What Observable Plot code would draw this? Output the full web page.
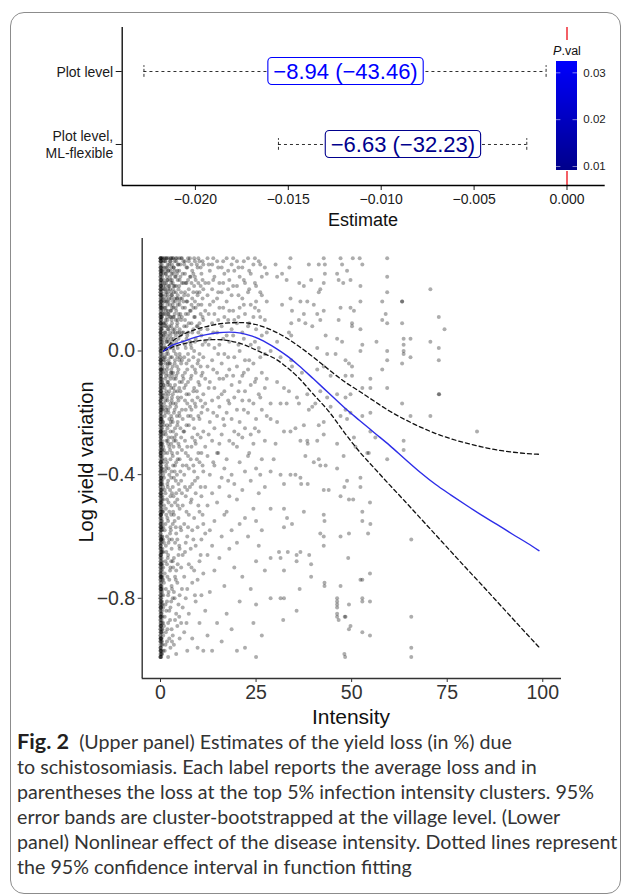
<!DOCTYPE html>
<html><head><meta charset="utf-8">
<script src="https://cdn.jsdelivr.net/npm/d3@7"></script>
<script src="https://cdn.jsdelivr.net/npm/@observablehq/plot@0.6"></script>
<style>
html,body{margin:0;padding:0;background:#fff;}
#wrap{position:relative;width:630px;height:896px;overflow:hidden;font-family:"Liberation Sans",Arial,Helvetica,sans-serif;background:#fff;}
.abs{position:absolute;}
.title{position:absolute;color:#111;white-space:nowrap;transform:translate(-50%,-50%);line-height:1;}
#frame{position:absolute;left:10px;top:12px;width:611px;height:882px;border:1.3px solid #8c8c8c;border-radius:14px;box-sizing:border-box;pointer-events:none;}
#caption{position:absolute;left:17px;top:729px;font-family:Lato,"Open Sans",sans-serif;font-size:17px;line-height:25px;color:#333;}
#caption .ln{white-space:nowrap;height:25px;}
#caption b{font-size:1.1em;color:#231f20;}
</style></head>
<body><div id="wrap">
<div id="top" class="abs" style="left:0;top:0"></div>
<div id="legend" class="abs" style="left:553px;top:40px"></div>
<div class="title" style="left:567px;top:51px;font-size:12.5px;color:#111"><i>P</i>.val</div>
<div class="title" style="left:363px;top:220px;font-size:18px">Estimate</div>
<div id="bottom" class="abs" style="left:0;top:232px"></div>
<div class="title" style="left:351px;top:716px;font-size:21px">Intensity</div>
<div class="title" style="left:86px;top:462px;font-size:20px;transform:translate(-50%,-50%) rotate(-90deg)">Log yield variation</div>
<div id="caption">
<div class="ln"><span><b>Fig. 2</b>&nbsp;&nbsp;(Upper panel) Estimates of the yield loss (in %) due</span></div>
<div class="ln"><span>to schistosomiasis. Each label reports the average loss and in</span></div>
<div class="ln"><span>parentheses the loss at the top 5% infection intensity clusters. 95%</span></div>
<div class="ln"><span>error bands are cluster-bootstrapped at the village level. (Lower</span></div>
<div class="ln"><span>panel) Nonlinear effect of the disease intensity. Dotted lines represent</span></div>
<div class="ln"><span>the 95% confidence interval in function fitting</span></div>
</div>
<div id="frame"></div>
</div>
<script>
// ---------- Upper panel data ----------
const rowLabels = ["Plot level", "Plot level,\nML-flexible"];
const rowPos = [2, 1];
const estLow = [-0.02277, -0.01553];
const estHigh = [-0.001125, -0.002164];
const estMid = [-0.01192, -0.00883];
const estText = ["\u22128.94 (\u221243.46)", "\u22126.63 (\u221232.23)"];
const pVal = [0.0322, 0.0095];
const topXTicks = [-0.020, -0.015, -0.010, -0.005, 0.000];
const topXDomain = [-0.02394, 0.002056];
const topYDomain = [0.438, 2.603];
const pDomain = [0.00915, 0.03248];
const pTicks = [0.01, 0.02, 0.03];
const pColors = ["#00008B", "#0000FF"];

// ---------- Lower panel data ----------
const fitX     = [0.8, 3, 6, 9, 12, 15, 18, 21, 24, 27, 30, 33, 36, 40, 44, 48, 52, 56, 60, 64, 68, 72, 76, 80, 84, 88, 92, 96, 99];
const fitMean  = [0.000, 0.018, 0.031, 0.044, 0.053, 0.059, 0.061, 0.058, 0.048, 0.032, 0.010, -0.015, -0.045, -0.090, -0.136, -0.182, -0.224, -0.265, -0.306, -0.350, -0.393, -0.432, -0.466, -0.499, -0.531, -0.561, -0.592, -0.622, -0.646];
const fitUpper = [0.000, 0.030, 0.054, 0.069, 0.079, 0.087, 0.091, 0.092, 0.088, 0.078, 0.062, 0.042, 0.017, -0.020, -0.060, -0.098, -0.130, -0.163, -0.195, -0.222, -0.246, -0.267, -0.284, -0.298, -0.310, -0.320, -0.327, -0.332, -0.334];
const fitLower = [0.000, 0.012, 0.023, 0.031, 0.036, 0.037, 0.033, 0.024, 0.009, -0.008, -0.025, -0.052, -0.085, -0.140, -0.195, -0.262, -0.325, -0.380, -0.434, -0.487, -0.541, -0.595, -0.649, -0.703, -0.756, -0.810, -0.864, -0.918, -0.958];
const bottomXTicks = [0, 25, 50, 75, 100];
const bottomYTicks = [0, -0.4, -0.8];
const bottomXDomain = [-4.79, 104.9];
const bottomYDomain = [-1.0595, 0.364];

// scatter, dense part: "intensity|log-yield values in hundredths"
const denseColumns = [
"0|30 29 27 26 24 23 21 20 18 17 15 14 12 11 9 8 6 5 3 2 0 -1 -3 -4 -6 -7 -9 -10 -12 -13 -15 -16 -18 -19 -21 -22 -24 -25 -27 -28 -30 -31 -33 -34 -36 -37 -39 -40 -42 -43 -45 -46 -48 -49 -51 -52 -54 -55 -57 -58 -60 -61 -63 -64 -66 -67 -69 -70 -72 -73 -75 -76 -78 -79 -81 -82 -84 -85 -87 -88 -90 -91 -93 -94 -96 -97 -99",
"0|30 28 25 22 19 16 13 10 7 4 1 -2 -5 -8 -11 -14 -17 -20 -23 -26 -29 -32 -35 -38 -41 -44 -47 -50 -53 -56 -59 -62 -65 -68 -71 -74 -77 -80 -83 -86 -89 -92 -95 -98",
"0|29 26 24 21 19 16 14 11 9 6 4 1 -2 -4 -7 -9 -12 -14 -17 -19 -22 -24 -27 -29 -32 -34 -37 -39 -42 -44 -47 -49 -52 -54 -57 -59 -62 -64 -67 -69 -72 -74 -77 -79 -82 -84 -87 -89 -92 -94 -97 -99",
"0|30 27 23 20 18 15 12 9 6 3 0 -3 -6 -10 -13 -16 -20 -23 -26 -30 -33 -36 -40 -43 -46 -50 -53 -56 -60 -63 -66 -70 -73 -76 -80 -83 -86 -90 -93 -96 -99",
"0.1|30 27 25 22 20 17 15 12 10 7 5 2 -1 -3 -6 -8 -11 -13 -16 -18 -21 -23 -26 -28 -31 -33 -36 -38 -41 -43 -46 -48 -51 -53 -56 -58 -61 -63 -66 -68 -71 -73 -76 -78 -81 -83 -86 -88 -91 -93 -96 -98",
"0.15|29 25 21 18 14 11 7 4 0 -4 -8 -11 -15 -19 -22 -26 -30 -34 -37 -41 -45 -49 -53 -57 -61 -65 -69 -73 -77 -81 -85 -89 -93 -97",
"0.2|29 26 23 21 18 16 13 10 8 5 2 0 -3 -6 -9 -12 -14 -17 -20 -22 -25 -28 -31 -33 -36 -39 -42 -45 -47 -50 -53 -55 -58 -61 -64 -66 -69 -72 -75 -77 -80 -83 -86 -89 -91 -94 -97 -99",
"0.3|28 26 23 19 16 14 11 9 6 3 1 -4 -7 -10 -13 -15 -18 -21 -24 -27 -30 -32 -35 -38 -41 -43 -46 -49 -52 -54 -57 -60 -62 -65 -67 -70 -73 -76 -79 -82 -85 -87 -90 -93 -95 -98",
"0.4|30 27 24 20 17 14 11 7 4 1 -2 -6 -9 -12 -15 -19 -22 -25 -29 -32 -35 -38 -42 -45 -48 -51 -55 -58 -61 -65 -68 -71 -74 -78 -81 -84 -88 -91 -94 -98",
"0.5|30 26 22 18 15 12 8 3 -1 -5 -10 -14 -18 -23 -26 -30 -34 -39 -43 -47 -52 -56 -60 -64 -69 -73 -77 -82 -86 -90 -95",
"0.7|29 25 21 17 13 9 5 1 -3 -7 -11 -15 -19 -23 -27 -31 -36 -40 -44 -48 -52 -57 -61 -65 -70 -74 -79 -83 -88 -92 -97",
"0.9|30 27 23 20 16 12 9 5 2 -2 -6 -11 -17 -24 -32 -41 -50 -62 -75 -89",
"1.1|29 22 14 6 -3 -12 -21 -33 -45 -58 -72 -86 -97",
"1.25|30 25 20 16 12 8 4 -2 -16 -39",
"1.3|29 26 21 18 14 10 6 1 -4 -9 -14 -20 -26 -35 -46 -56 -68 -82 -95",
"1.4|27 19 9 1 -8 -18 -27 -38 -51 -63 -77 -91",
"1.5|30 25 22 17 13 8 3 -1 -7 -13 -19 -29 -37 -53 -65 -84",
"1.7|30 24 16 11 3 -6 -15 -24 -36 -48 -60 -69 -81 -94",
"1.8|27 23 19 15 10 5 0 -5 -10 -16 -25 -33 -43 -54 -73 -90",
"1.9|28 23 18 13 7 -4 -11 -29 -44 -67",
"2.0|26 20 12 4 -1 -10 -19 -30 -42 -55 -66 -79 -88 -99",
"2.1|30 26 21 16 12 7 3 -3 -8 -14 -20 -28 -38 -49 -62 -78",
"2.3|28 21 17 8 -4 -13 -22 -31 -40 -52 -61 -74 -84 -93",
"2.5|29 24 20 15 11 6 1 -4 -11 -18 -24 -32 -45 -59 -71 -87",
"2.6|29 23 13 5 -2 -9 -17 -26 -35 -47 -57 -70 -83 -96",
"2.7|30 26 19 11 2 -7 -23 -58",
"2.8|30 27 22 17 13 8 4 -6 -12 -21 -30 -41 -53 -68 -81",
"2.9|25 18 10 2 -7 -16 -28 -39 -50 -64 -76 -90",
"3.0|28 23 18 14 9 3 -2 -8 -15 -22 -33 -46 -61 -77 -94",
"3.2|30 22 15 7 -5 -14 -23 -34 -44 -56 -68 -80 -92",
"3.3|30 25 20 16 11 6 1 -7 -17 -26 -37 -52 -70",
"3.4|27 21 14 4 -12 -31 -47",
"3.5|27 19 11 0 -9 -20 -29 -41 -53 -67 -78 -95",
"3.7|29 26 21 17 12 7 2 -4 -13 -19 -28 -39 -55 -80",
"3.8|24 16 6 -3 -11 -25 -37 -49 -62 -73 -87",
"4.0|30 24 19 14 10 5 -1 -9 -17 -29 -42 -57 -74",
"4.1|29 21 13 3 -8 -18 -27 -36 -46 -59 -71 -85 -98",
"4.3|30 25 17 8 -5 -21 -40",
"4.4|26 17 9 -2 -13 -24 -33 -48 -61 -75 -89",
"4.5|28 23 18 15 10 6 1 -7 -15 -23 -35 -50 -69",
"4.7|28 20 12 4 -6 -16 -30 -43 -54 -66 -82",
"4.9|30 26 21 16 11 6 -3 -12 -20 -31 -45 -63 -86",
"5.0|23 15 7 -1 -10 -21 -35 -51 -64 -79 -93",
"5.2|28 24 17 12 5 -2 -13 -25 -39 -57",
"5.4|30 19 10 -4 -15 -28 -42 -58 -70 -88",
"5.6|30 22 17 11 6 -3 -10 -19 -32 -46 -77",
"5.8|25 14 3 -8 -22 -37 -50 -66 -83",
"6.0|29 22 16 6 -9 -26",
"6.2|28 18 8 -2 -12 -26 -40 -56 -73 -91",
"6.4|29 25 19 14 10 2 -7 -16 -29 -44 -65",
"6.6|22 12 1 -11 -19 -33 -47 -62 -80",
"6.8|27 22 16 8 4 -4 -14 -24 -37 -52 -88",
"7.0|27 16 5 -6 -17 -31 -45 -60 -77 -97",
"7.2|30 23 18 12 6 -1 -10 -21 -34 -57",
"7.4|29 20 9 -3 -14 -24 -38 -53 -69 -85",
"7.7|30 24 13 3 -18 -44",
"7.9|24 13 2 -9 -21 -35 -49 -64",
"8.1|28 22 15 9 1 -8 -19 -31 -48 -70",
"8.3|26 17 6 -5 -16 -28 -43 -58 -75 -93",
"8.6|25 19 14 7 -2 -13 -22 -37 -61",
"8.8|30 21 11 0 -12 -25 -39 -54 -71",
"9.0|29 24 16 11 3 -6 -17 -29 -42 -79",
"9.2|23 14 4 -7 -18 -30 -46 -63 -81",
"9.5|28 19 8 -13 -35",
"9.7|27 18 8 -4 -15 -27 -41 -57 -74 -96",
"9.9|30 22 15 6 -3 -10 -21 -33 -50",
"10.2|29 19 9 -1 -11 -22 -36 -52 -68 -88",
"10.5|27 21 12 7 -5 -16 -28 -44 -66",
"10.7|25 15 5 -8 -20 -33 -47 -61 -79",
"11.0|29 23 17 11 2 -7 -18 -37 -53",
"11.2|28 20 10 -2 -14 -26 -39 -56 -72 -97",
"11.7|22 13 3 -9 -17 -31 -44 -59 -84",
"12.3|30 18 7 -5 -19 -34 -50 -66 -92",
"12.6|28 22 12 2 -12 -27",
"12.9|26 15 4 -10 -23 -40 -58 -78",
"13.5|28 20 9 -3 -16 -29 -46 -63 -97",
"13.8|30 23 16 6 -6 -20 -36",
"14.1|24 12 1 -12 -25 -37 -55 -71",
"14.8|29 17 6 -7 -21 -33 -49 -88",
"15.1|27 19 10 -1 -15 -33",
"15.4|22 14 2 -9 -18 -30 -44 -67",
"16.0|27 19 8 -4 -14 -27 -41 -60 -94",
"16.4|29 22 14 4 -9 -22",
"16.7|25 11 -1 -13 -24 -38 -53 -76",
"17.3|30 16 5 -8 -20 -35 -52 -85",
"17.7|26 20 10 -2 -16 -42",
"18.0|23 13 3 -6 -17 -29 -47 -64",
"18.6|28 18 7 -11 -22 -40 -58 -90",
"19.0|30 21 13 5 -8 -30",
"19.3|26 10 -2 -15 -26 -43 -70",
"20.0|29 21 9 -5 -19 -31 -48 -62 -97",
"20.4|27 18 11 2 -13 -27",
"20.7|24 14 0 -10 -23 -36 -56 -81",
"21.4|27 17 6 -8 -16 -28 -45 -73",
"21.8|29 23 15 4 -7 -19",
"22.1|22 12 -3 -13 -25 -39 -54 -96",
"22.9|30 19 8 -6 -20 -34 -60",
"23.2|26 20 9 -3 -16 -33",
"23.6|25 15 2 -11 -27 -42 -77",
"24.3|28 11 -4 -17 -30 -51 -88",
"24.7|30 22 14 3 -10 -25",
"25.0|21 16 7 -9 -22 -38 -55 -68 -82 -99",
"25.7|29 13 1 -14 -26 -46 -63",
"26.1|28 19 11 -2 -15 -40",
"26.5|24 18 5 -7 -19 -35 -58 -92",
"27.3|27 10 -1 -12 -29 -44 -71",
"27.8|25 16 6 -9 -21"
];
// scatter, sparse part: "intensity,log-yield"
const sparsePoints = "34.0,0.30 42.7,0.30 47.1,0.30 50.3,0.30 52.1,0.30 59.3,0.30 30.1,0.28 31.8,0.25 33.7,0.27 38.8,0.28 41.4,0.28 43.0,0.28 43.0,0.25 46.2,0.25 47.5,0.28 48.8,0.26 52.8,0.28 30.5,0.24 33.0,0.23 36.3,0.22 37.5,0.21 39.4,0.23 42.7,0.22 46.6,0.23 47.8,0.22 49.7,0.23 52.3,0.21 59.3,0.24 70.6,0.20 41.8,0.20 41.4,0.19 34.0,0.17 36.6,0.16 38.4,0.16 40.1,0.15 42.7,0.13 47.1,0.14 49.7,0.14 50.6,0.13 52.3,0.16 58.0,0.16 59.3,0.19 63.2,0.16 31.8,0.15 34.4,0.13 37.5,0.12 41.0,0.12 41.8,0.10 46.6,0.10 50.1,0.09 58.0,0.10 58.9,0.12 59.3,0.09 63.2,0.09 72.8,0.11 34.2,0.09 36.2,0.10 37.9,0.09 39.7,0.08 43.2,0.05 46.2,0.04 47.5,0.03 50.1,0.08 52.3,0.07 52.8,0.02 56.5,0.03 63.6,0.04 63.6,0.02 63.6,0.00 63.6,-0.01 65.4,0.04 70.6,0.03 72.8,0.01 72.8,-0.03 30.5,0.03 33.6,0.06 34.2,0.05 41.0,0.01 43.6,-0.01 48.4,-0.03 49.3,-0.04 50.1,-0.05 45.8,-0.01 52.3,0.00 59.3,0.00 59.3,-0.03 63.2,-0.04 65.4,-0.02 58.0,-0.06 28.8,0.00 31.4,-0.02 34.2,-0.03 34.4,-0.05 37.0,-0.07 41.0,-0.06 42.7,-0.05 44.5,-0.08 48.4,-0.08 50.1,-0.08 54.9,-0.09 54.9,-0.12 59.3,-0.12 30.5,-0.10 32.3,-0.12 33.6,-0.13 35.7,-0.15 38.4,-0.14 41.8,-0.13 43.6,-0.15 46.2,-0.14 48.4,-0.15 49.7,-0.14 52.8,-0.12 63.2,-0.17 65.4,-0.21 70.6,-0.21 72.8,-0.14 31.4,-0.17 33.0,-0.17 28.8,-0.17 36.2,-0.17 38.8,-0.19 39.7,-0.18 40.5,-0.17 44.5,-0.18 48.4,-0.19 49.7,-0.20 52.8,-0.21 54.9,-0.20 28.8,-0.22 30.5,-0.23 32.3,-0.26 34.0,-0.26 35.3,-0.25 37.5,-0.24 41.4,-0.24 42.7,-0.23 42.7,-0.27 47.1,-0.21 48.8,-0.22 50.6,-0.28 54.9,-0.26 56.2,-0.28 63.6,-0.29 63.6,-0.32 30.1,-0.30 36.6,-0.29 38.4,-0.29 38.5,-0.30 41.0,-0.29 46.2,-0.30 51.0,-0.31 54.1,-0.33 59.3,-0.35 29.6,-0.35 37.9,-0.34 40.1,-0.36 41.4,-0.35 41.8,-0.37 43.2,-0.37 46.2,-0.38 47.9,-0.34 52.3,-0.41 54.5,-0.33 28.8,-0.39 31.4,-0.40 32.3,-0.43 34.0,-0.40 35.3,-0.40 36.6,-0.41 36.8,-0.43 38.5,-0.43 42.7,-0.45 44.0,-0.45 47.1,-0.47 48.1,-0.44 48.8,-0.42 49.3,-0.48 50.4,-0.48 52.3,-0.44 52.8,-0.52 54.8,-0.49 28.8,-0.51 32.3,-0.51 33.1,-0.54 32.3,-0.57 34.4,-0.56 37.5,-0.52 42.7,-0.53 42.9,-0.55 41.8,-0.59 42.7,-0.60 42.7,-0.63 47.1,-0.60 49.3,-0.59 52.8,-0.55 54.9,-0.56 54.3,-0.59 65.6,-0.61 28.8,-0.67 31.0,-0.65 31.4,-0.67 32.3,-0.71 33.3,-0.65 35.6,-0.66 35.6,-0.68 36.6,-0.65 38.9,-0.66 39.4,-0.69 39.4,-0.73 49.1,-0.67 52.3,-0.74 52.8,-0.74 54.8,-0.72 28.8,-0.80 31.4,-0.80 32.3,-0.80 32.1,-0.87 35.6,-0.84 36.4,-0.77 42.9,-0.75 42.9,-0.76 46.2,-0.80 46.2,-0.81 46.2,-0.82 46.2,-0.83 46.2,-0.85 46.2,-0.86 46.6,-0.87 47.1,-0.76 48.2,-0.86 48.4,-0.86 49.3,-0.82 49.7,-0.89 49.3,-0.90 52.8,-0.80 52.8,-0.81 54.8,-0.81 52.8,-0.91 54.8,-0.92 48.1,-0.98 48.3,-0.99 65.6,-0.86 65.6,-0.96 65.6,-0.99 72.9,-0.14 74.3,0.07 82.8,-0.26 63.2,0.16";

// ---------- build tables ----------
const rows = rowLabels.map((label, i) => ({label, y: rowPos[i], lo: estLow[i], hi: estHigh[i], est: estMid[i], text: estText[i], p: pVal[i]}));
const fit = fitX.map((x, i) => ({x, mean: fitMean[i], upper: fitUpper[i], lower: fitLower[i]}));
const points = [];
for (const s of denseColumns) {
  const [x, ys] = s.split("|");
  for (const v of ys.trim().split(/\s+/)) points.push({x: +x, y: +v / 100});
}
for (const pr of sparsePoints.trim().split(/\s+/)) {
  const [x, y] = pr.split(",");
  points.push({x: +x, y: +y});
}

const font = '"Liberation Sans", Arial, Helvetica, sans-serif';
const pColor = {type: "linear", domain: pDomain, range: pColors};

// ---------- Upper panel ----------
const topPlot = Plot.plot({
  width: 630, height: 232,
  marginLeft: 121.7, marginRight: 25.3, marginTop: 27, marginBottom: 47,
  style: {fontFamily: font, fontSize: "14px", background: "white", color: "#222"},
  x: {domain: topXDomain},
  y: {domain: topYDomain},
  color: pColor,
  marks: [
    Plot.ruleX([0], {stroke: "#ee1c25", strokeWidth: 1.4}),
    Plot.ruleY(rows, {y: "y", x1: "lo", x2: "hi", stroke: "#1a1a1a", strokeWidth: 0.9, strokeDasharray: "3,3"}),
    Plot.ruleX(rows, {x: "lo", y1: d => d.y - 0.08, y2: d => d.y + 0.08, stroke: "#1a1a1a", strokeWidth: 0.9, strokeDasharray: "3,2"}),
    Plot.ruleX(rows, {x: "hi", y1: d => d.y - 0.08, y2: d => d.y + 0.08, stroke: "#1a1a1a", strokeWidth: 0.9, strokeDasharray: "3,2"}),
    Plot.text(rows, {x: "est", y: "y", text: "text", fill: "p", fontSize: 22}),
    Plot.axisY(rowPos, {tickFormat: d => rowLabels[rowPos.indexOf(d)], tickSize: 6, tickPadding: 3, fontSize: 14, lineHeight: 1.2, label: null, color: "#1a1a1a"}),
    Plot.axisX(topXTicks, {tickFormat: d3.format(".3f"), tickSize: 5, tickPadding: 4, fontSize: 14, label: null, color: "#1a1a1a"}),
    Plot.ruleX([topXDomain[0]], {stroke: "#000", strokeWidth: 1.3}),
    Plot.ruleY([topYDomain[0]], {stroke: "#000", strokeWidth: 1.3})
  ]
});
document.getElementById("top").appendChild(topPlot);

// label boxes around estimate texts
const NS = "http://www.w3.org/2000/svg";
for (const t of topPlot.querySelectorAll("text")) {
  if (!estText.includes(t.textContent)) continue;
  const b = t.getBBox();
  const col = t.getAttribute("fill") || t.parentNode.getAttribute("fill") || "#00f";
  const r = document.createElementNS(NS, "rect");
  const cy = b.y + b.height / 2;
  r.setAttribute("x", b.x - 5.5);
  r.setAttribute("width", b.width + 11);
  r.setAttribute("y", cy - 13.5);
  r.setAttribute("height", 27);
  r.setAttribute("rx", 4);
  r.setAttribute("fill", "white");
  r.setAttribute("stroke", col);
  r.setAttribute("stroke-width", 1.1);
  if (t.getAttribute("transform")) r.setAttribute("transform", t.getAttribute("transform"));
  t.parentNode.insertBefore(r, t);
}

// ---------- colour bar legend ----------
const ramp = d3.range(pDomain[0], pDomain[1], 0.0002);
const legendPlot = Plot.plot({
  width: 70, height: 131,
  marginTop: 20.7, marginBottom: 1, marginLeft: 2.6, marginRight: 45.7,
  style: {fontFamily: font, fontSize: "11px", background: "white", color: "#222"},
  x: {domain: [0, 1], axis: null},
  y: {domain: pDomain, axis: null},
  color: pColor,
  marks: [
    Plot.rect(ramp, {x1: 0, x2: 1, y1: d => d, y2: d => Math.min(d + 0.0005, pDomain[1]), fill: d => d, shapeRendering: "crispEdges"}),
    Plot.ruleY(pTicks, {x1: 0, x2: 0.22, stroke: "white", strokeOpacity: 0.5}),
    Plot.ruleY(pTicks, {x1: 0.78, x2: 1, stroke: "white", strokeOpacity: 0.5}),
    Plot.axisY(pTicks, {anchor: "right", tickSize: 0, tickPadding: 5.5, fontSize: 11.5, tickFormat: d3.format(".2f"), label: null, color: "#1a1a1a"})
  ]
});
document.getElementById("legend").appendChild(legendPlot);

// ---------- Lower panel ----------
const bottomPlot = Plot.plot({
  width: 630, height: 500,
  marginLeft: 141.7, marginRight: 69, marginTop: 6, marginBottom: 54,
  style: {fontFamily: font, fontSize: "19.5px", background: "transparent", color: "#222"},
  x: {domain: bottomXDomain},
  y: {domain: bottomYDomain},
  marks: [
    Plot.dot(points, {x: "x", y: "y", r: 2, fill: "#000", fillOpacity: 0.32, stroke: null}),
    Plot.line(fit, {x: "x", y: "upper", stroke: "#111", strokeWidth: 1.3, strokeDasharray: "4,3", curve: "monotone-x"}),
    Plot.line(fit, {x: "x", y: "lower", stroke: "#111", strokeWidth: 1.3, strokeDasharray: "4,3", curve: "monotone-x"}),
    Plot.line(fit, {x: "x", y: "mean", stroke: "#2d2de8", strokeWidth: 1.4, curve: "monotone-x"}),
    Plot.axisX(bottomXTicks, {tickSize: 4, tickPadding: 3, fontSize: 19.5, label: null, color: "#333"}),
    Plot.axisY(bottomYTicks, {tickSize: 4, tickPadding: 3, fontSize: 19.5, tickFormat: d3.format(".1f"), label: null, color: "#333"}),
    Plot.ruleX([bottomXDomain[0]], {stroke: "#333", strokeWidth: 1.4}),
    Plot.ruleY([bottomYDomain[0]], {stroke: "#333", strokeWidth: 1.4})
  ]
});
document.getElementById("bottom").appendChild(bottomPlot);

// ---------- fit caption width ----------
(function () {
  const spans = document.querySelectorAll("#caption .ln span");
  const w = spans[4].getBoundingClientRect().width;
  const cap = document.getElementById("caption");
  const fs = parseFloat(getComputedStyle(cap).fontSize);
  cap.style.fontSize = (fs * 601 / w) + "px";
})();
</script>
</body></html>
